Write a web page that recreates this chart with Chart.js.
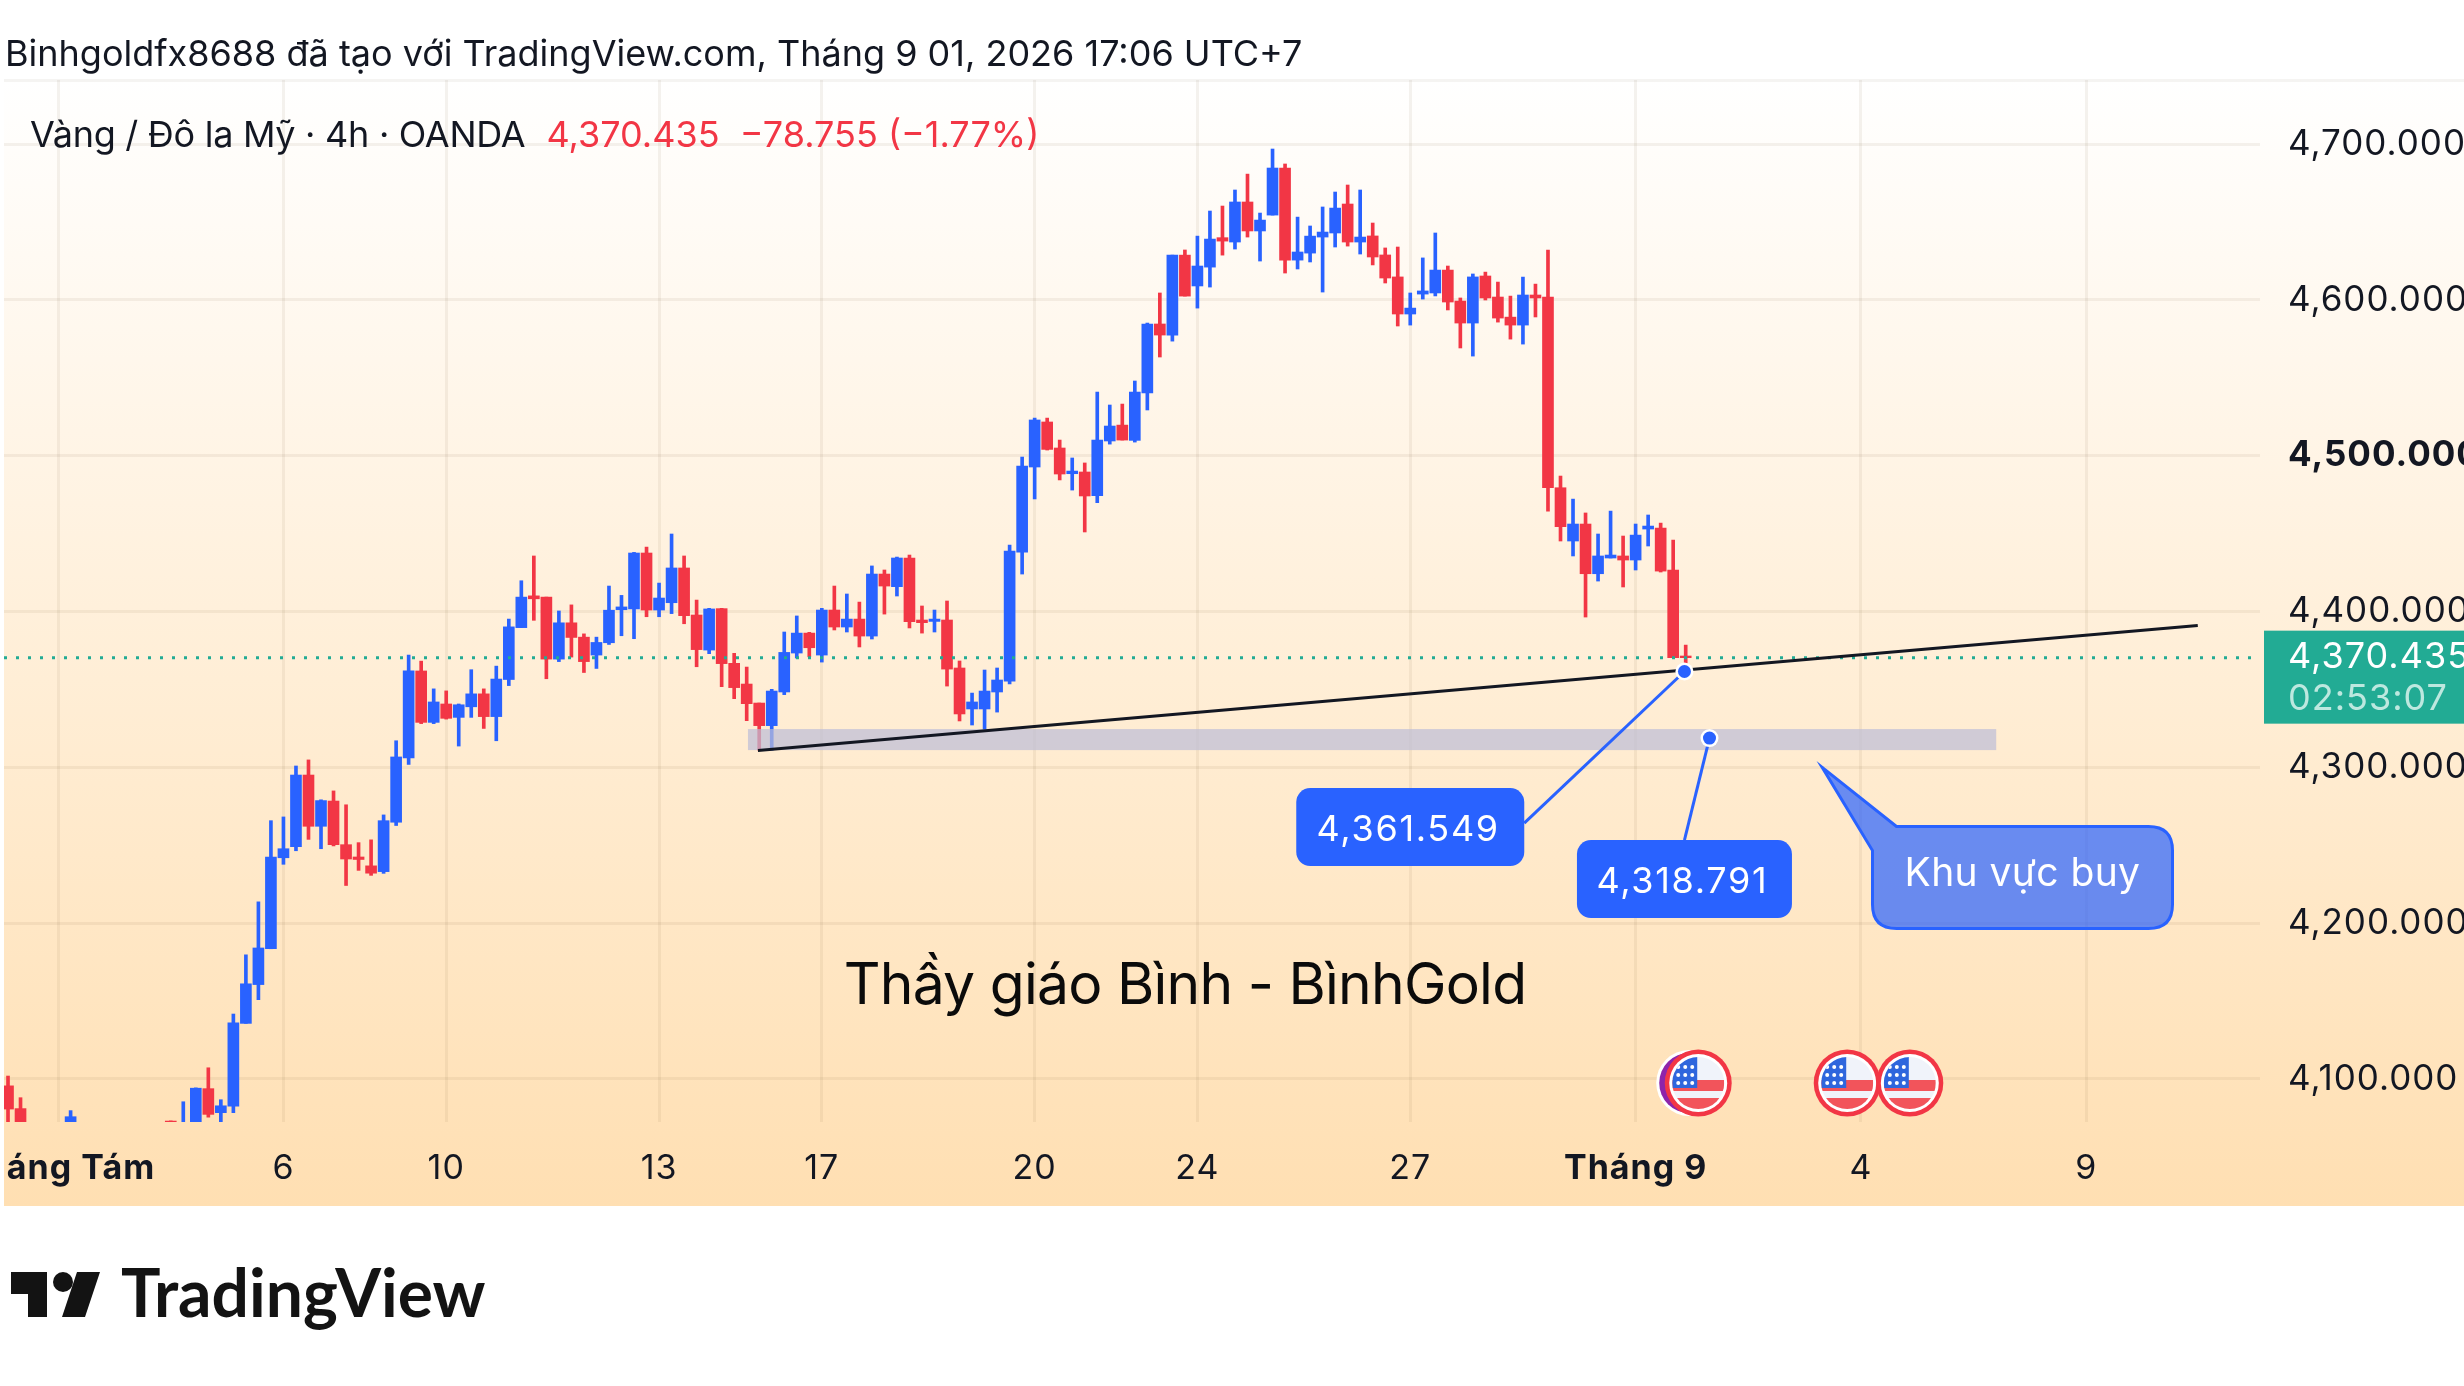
<!DOCTYPE html>
<html>
<head>
<meta charset="utf-8">
<title>XAUUSD 4h</title>
<script src="https://cdn.jsdelivr.net/npm/chart.js@4"></script>
<style>
  html, body { margin: 0; padding: 0; background: #fff; overflow: hidden; }
  canvas { position: absolute; left: 4px; top: 0; }
</style>
</head>
<body>
<canvas id="chart" width="2460" height="1386"></canvas>
<script>
// 4h candles. null = candle sits completely below the visible pane
const opens = [4095.6,4081,null,null,null,4060,null,null,null,null,null,null,null,4073,4060,4065,4093.8,4078.4,4082.6,4135.7,4160.6,4183.6,4242,4249.1,4295.1,4262.2,4278.4,4250.4,4242.5,4236.8,4233.1,4264.8,4306.1,4361.9,4328.9,4340.7,4332.1,4338.9,4347.2,4332.6,4356.4,4389.7,4410.1,4409.3,4369.5,4392.8,4383.6,4372.1,4380,4401.2,4401.7,4437.6,4401,4405.7,4428,4397.8,4375.3,4401.9,4366.8,4353.5,4341.3,4326.8,4348.4,4373.4,4386.2,4372.1,4401,4390.1,4395.2,4384.3,4424.1,4416,4434.4,4394.6,4393.7,4394.6,4363.8,4337.5,4337.5,4348.4,4355.4,4438.2,4492.8,4521.7,4505,4488.5,4489.6,4474.4,4509.5,4519.7,4509.9,4540.3,4584.6,4577.5,4628.8,4609,4621.1,4640,4637.2,4662.9,4644.3,4654.5,4684.7,4625.6,4630.1,4640.4,4643,4661.6,4637.2,4641.1,4628.9,4614.8,4591,4603.8,4604.5,4619.2,4599.3,4585.2,4615.4,4601.9,4589,4583.9,4603.2,4601.9,4479.5,4445.3,4456.2,4424.3,4434.4,4435.7,4433.1,4453,4453.6,4426.7,4371.5];
const highs = [4101.9,4088,null,null,null,4079.7,null,null,null,null,null,null,null,4073.1,4085.4,4094.3,4107.2,4086.7,4141.7,4179.7,4213.7,4265.8,4268.2,4300.9,4304.8,4279.2,4284.9,4276,4251.7,4253.5,4269.5,4317.1,4372.1,4368.2,4350.4,4349.1,4340.7,4362.7,4350.4,4365,4395.2,4419.8,4435.7,4409.3,4400.4,4404.3,4385.7,4383.6,4416.4,4410.4,4438,4441.4,4418.3,4449.8,4435.7,4407.4,4402.1,4402.1,4373.2,4364.4,4341.3,4350.1,4386.9,4397.2,4386.7,4402.1,4416.4,4411.3,4406.1,4429.3,4426.7,4435,4436.3,4403.6,4401,4406.8,4368.3,4347.7,4362.5,4363.8,4442.7,4499.2,4524.2,4524.2,4510.1,4498.6,4495.4,4540.9,4532.6,4533.2,4548,4585.2,4604.5,4628.8,4632.1,4641,4657.1,4660.3,4670.6,4680.8,4655.8,4696.9,4687.3,4653.2,4647.5,4659.7,4669.3,4673.8,4670.6,4649.4,4633.4,4634,4604.5,4627,4643,4621.8,4601.3,4616.7,4617.9,4611.5,4602.5,4614.7,4610.2,4632.1,4487,4472.2,4463.3,4449.8,4464.5,4448.5,4456.2,4462,4456.8,4445.9,4378.5];
const lows = [4060,4055,null,null,null,4050,null,null,null,null,null,null,null,4050,4050,4060,4075.5,4068,4078.4,4135.7,4150.9,4183.6,4237.8,4246.5,4253.8,4247.8,4249.6,4224.2,4233.9,4230.7,4232,4262.7,4301.9,4328.1,4328.1,4331,4313.7,4332.1,4325,4317.1,4352.5,4389.7,4394.4,4356.9,4367.9,4370.8,4360.9,4363.5,4378.9,4384.5,4382.6,4396.7,4396.7,4398.7,4392.2,4364.6,4373,4351.8,4344.1,4330,4311.1,4311.1,4346.7,4370.2,4371,4367.6,4388.2,4386.9,4377.3,4382.4,4398.4,4410,4389.5,4386.2,4386.9,4352.2,4329.8,4327.2,4324,4335.5,4353.5,4424.1,4472.3,4503.7,4484.5,4478,4451.1,4469.9,4507.5,4510.1,4508.8,4529.4,4563.4,4573.6,4602.5,4594.8,4608.3,4628.8,4632.7,4640.4,4625,4654.5,4617.3,4619.9,4624.4,4605.1,4634,4634.6,4629.5,4622.5,4610.9,4583.3,4583.9,4600.6,4602.6,4593.6,4569.2,4564,4600,4585.8,4574.9,4571.7,4589.1,4464.5,4445.3,4435.7,4396.5,4419.6,4434.4,4415.8,4426.7,4442.1,4425.4,4370.4,4364.6];
const closes = [4080.7,4065,null,null,null,4075.8,null,null,null,null,null,null,null,4060,4071,4094.1,4077.3,4082.8,4136,4161.1,4184.1,4242.5,4247.8,4295.1,4262.2,4278.7,4250.4,4241.2,4240.9,4232.1,4265.8,4306.7,4361.9,4328.9,4342,4331.5,4340.2,4347.2,4332.6,4356.7,4390.2,4409.3,4408.2,4369.5,4392.8,4383.4,4367.9,4380.2,4400.9,4403,4437.6,4401,4408.7,4428,4397.4,4375.6,4401.7,4366.6,4351.2,4340.9,4326.8,4349,4373.8,4386.2,4376.8,4401,4390.1,4395.2,4384.3,4424.1,4416.4,4434.4,4393.5,4392.9,4395.2,4363.1,4334.3,4342,4349,4356.1,4438.9,4493.4,4523,4504.1,4488.3,4490.2,4474.2,4510.1,4519.1,4510.1,4540.9,4584.6,4577.5,4628.8,4602.5,4621.8,4639.1,4637.8,4662.9,4644.3,4651.3,4684.7,4625.6,4630.8,4641,4643.6,4659,4637.2,4640.4,4627.6,4614.1,4591,4594.8,4605.8,4619.2,4598.7,4585.2,4614.8,4601.3,4588.4,4583.9,4603.2,4601.3,4479.5,4454.5,4456.2,4424.3,4435.7,4436.3,4433.1,4449.1,4454.9,4426,4370.4,4370.435];

// x axis: candle index of each labelled grid line
const xTickIndex = [4, 22, 35, 52, 65, 82, 95, 112, 130, 148, 166];
const xTickLabels = ['Tháng Tám', '6', '10', '13', '17', '20', '24', '27', 'Tháng 9', '4', '9'];
const yTicks = [4100, 4200, 4300, 4400, 4500, 4600, 4700];

const lastPrice = 4370.435;
const trendIndex = [59.9, 174.9];
const trendPrice = [4310.9, 4391.1];
const zoneIndex = [59.1, 158.8];
const zonePrice = [4324.6, 4311.1];
const pricePins = [4361.549, 4318.791];
const pinIndex = [133.9, 135.9];
const pinBoxIndex = [112, 133.9];
const pinBoxPrice = [4261.7, 4228.3];
const calloutIndex = [160.9, 144.9];   // box centre, tip
const calloutPrice = [4229.3, 4300];
const eventIndex = [135, 146.9, 151.9];

const UP = '#2962FF', DOWN = '#F23645';
const FONT = 'Inter, "Liberation Sans", sans-serif';

const fmt = v => v.toLocaleString('en-US', { minimumFractionDigits: 3, maximumFractionDigits: 3 });

const wicks = [], bodies = [], colors = [];
opens.forEach((o, i) => {
  if (o === null) return;
  wicks.push({ x: i, y: [lows[i], highs[i]] });
  bodies.push({ x: i, y: [o, closes[i]] });
  colors.push(closes[i] >= o ? UP : DOWN);
});

function roundBox(ctx, x, y, w, h, r) {
  ctx.beginPath();
  ctx.roundRect(x, y, w, h, r);
}

function drawFlag(ctx, x, y) {
  ctx.save();
  ctx.beginPath(); ctx.arc(x, y, 33.5, 0, Math.PI * 2); ctx.fillStyle = '#F23645'; ctx.fill();
  ctx.beginPath(); ctx.arc(x, y, 29, 0, Math.PI * 2); ctx.fillStyle = '#fff'; ctx.fill();
  ctx.beginPath(); ctx.arc(x, y, 26, 0, Math.PI * 2); ctx.fillStyle = '#F0F3FA'; ctx.fill();
  ctx.clip();
  ctx.fillStyle = '#F2545B';
  ctx.fillRect(x - 26, y - 3, 52, 11);
  ctx.fillRect(x - 26, y + 15, 52, 12);
  ctx.fillStyle = '#2F66DD';
  ctx.fillRect(x - 26, y - 26, 25, 31);
  ctx.fillStyle = '#fff';
  for (let r = 0; r < 3; r++) for (let c = 0; c < 3; c++) {
    ctx.beginPath();
    ctx.arc(x - 20 + c * 7, y - 16 + r * 8, 2, 0, Math.PI * 2);
    ctx.fill();
  }
  ctx.restore();
}

// page furniture behind the plot: gradient + top border
const backdrop = {
  id: 'backdrop',
  beforeDraw(chart) {
    const ctx = chart.ctx;
    const g = ctx.createLinearGradient(0, 80, 0, 1206);
    g.addColorStop(0, '#FFFFFF');
    g.addColorStop(1, '#FFDFB2');
    ctx.save();
    ctx.fillStyle = g;
    ctx.fillRect(0, 80, chart.width, 1126);
    ctx.fillStyle = 'rgba(120,100,70,0.07)';
    ctx.fillRect(0, 79, chart.width, 3);
    ctx.restore();
    ctx.letterSpacing = '1px';   // axis labels run wider than the font
  }
};

// drawings on top of the candles, all anchored through the scales
const drawings = {
  id: 'drawings',
  afterDatasetsDraw(chart) {
    const ctx = chart.ctx, xs = chart.scales.x, ys = chart.scales.y, area = chart.chartArea;
    const X = v => xs.getPixelForValue(v), Y = v => ys.getPixelForValue(v);
    ctx.save();
    ctx.letterSpacing = '0px';

    // zone
    ctx.fillStyle = 'rgba(190,190,215,0.72)';
    ctx.fillRect(X(zoneIndex[0]), Y(zonePrice[0]), X(zoneIndex[1]) - X(zoneIndex[0]), Y(zonePrice[1]) - Y(zonePrice[0]));

    // last price line
    ctx.strokeStyle = '#22AB94';
    ctx.lineWidth = 3;
    ctx.setLineDash([3, 9]);
    ctx.beginPath();
    ctx.moveTo(area.left, Y(lastPrice));
    ctx.lineTo(area.right, Y(lastPrice));
    ctx.stroke();
    ctx.setLineDash([]);

    // trend line
    ctx.strokeStyle = '#131722';
    ctx.lineWidth = 3;
    ctx.beginPath();
    ctx.moveTo(X(trendIndex[0]), Y(trendPrice[0]));
    ctx.lineTo(X(trendIndex[1]), Y(trendPrice[1]));
    ctx.stroke();

    // watermark text
    ctx.fillStyle = '#0b0b0b';
    ctx.textBaseline = 'middle';
    ctx.textAlign = 'center';
    ctx.font = '57px ' + FONT;
    ctx.letterSpacing = '-0.75px';
    ctx.fillText('Thầy giáo Bình - BìnhGold', 1181, 987);
    ctx.letterSpacing = '0px';

    // price pins
    pricePins.forEach((p, k) => {
      const bx = X(pinBoxIndex[k]), by = Y(pinBoxPrice[k]);
      const w = k === 0 ? 228 : 215, h = 78;
      ctx.strokeStyle = UP;
      ctx.lineWidth = 3;
      ctx.beginPath();
      ctx.moveTo(k === 0 ? bx + w / 2 : bx, k === 0 ? by - 4 : by - h / 2);
      ctx.lineTo(X(pinIndex[k]), Y(p));
      ctx.stroke();
      ctx.fillStyle = UP;
      roundBox(ctx, bx - w / 2, by - h / 2, w, h, 14);
      ctx.fill();
      ctx.fillStyle = '#fff';
      ctx.font = '36px ' + FONT;
      ctx.letterSpacing = '1.7px';
      ctx.fillText(fmt(p), bx - 2, by + 3);
      ctx.letterSpacing = '0px';
      ctx.beginPath();
      ctx.arc(X(pinIndex[k]), Y(p), 9, 0, Math.PI * 2);
      ctx.fillStyle = '#fff';
      ctx.fill();
      ctx.beginPath();
      ctx.arc(X(pinIndex[k]), Y(p), 6.5, 0, Math.PI * 2);
      ctx.fillStyle = UP;
      ctx.fill();
    });

    // callout with tail
    const cx = X(calloutIndex[0]), cy = Y(calloutPrice[0]), tx = X(calloutIndex[1]), ty = Y(calloutPrice[1]);
    const l = cx - 150, r = cx + 150, t = cy - 51, b = cy + 51, rad = 24;
    ctx.beginPath();
    ctx.moveTo(tx, ty);
    ctx.lineTo(l + rad, t);
    ctx.lineTo(r - rad, t);
    ctx.quadraticCurveTo(r, t, r, t + rad);
    ctx.lineTo(r, b - rad);
    ctx.quadraticCurveTo(r, b, r - rad, b);
    ctx.lineTo(l + rad, b);
    ctx.quadraticCurveTo(l, b, l, b - rad);
    ctx.lineTo(l, t + rad);
    ctx.closePath();
    ctx.fillStyle = 'rgba(41,98,255,0.7)';
    ctx.fill();
    ctx.strokeStyle = UP;
    ctx.lineWidth = 3;
    ctx.stroke();
    ctx.fillStyle = '#fff';
    ctx.font = '39px ' + FONT;
    ctx.letterSpacing = '0.4px';
    ctx.fillText('Khu vực buy', cx, cy - 3);
    ctx.letterSpacing = '0px';

    // economic event icons
    const ey = area.bottom - 39;
    ctx.beginPath();
    ctx.arc(X(eventIndex[0]) - 9, ey, 33, 0, Math.PI * 2);
    ctx.fillStyle = '#fff';
    ctx.fill();
    ctx.beginPath();
    ctx.arc(X(eventIndex[0]) - 9, ey, 30, 0, Math.PI * 2);
    ctx.fillStyle = '#8E24AA';
    ctx.fill();
    eventIndex.forEach(i => drawFlag(ctx, X(i), ey));

    // header text
    ctx.textAlign = 'left';
    ctx.fillStyle = '#131722';
    ctx.font = '36px ' + FONT;
    ctx.fillText('Binhgoldfx8688 đã tạo với TradingView.com, Tháng 9 01, 2026 17:06 UTC+7', 1, 55.5);
    ctx.letterSpacing = '-0.28px';
    ctx.fillText('Vàng / Đô la Mỹ · 4h · OANDA', 26, 136.5);
    ctx.letterSpacing = '0px';
    ctx.fillStyle = DOWN;
    ctx.fillText(fmt(lastPrice) + '  −78.755 (−1.77%)', 542.5, 136.5);

    // price tag on the axis
    const tagX = 2260, tagY = Y(lastPrice);
    ctx.fillStyle = '#22AB94';
    ctx.fillRect(tagX, tagY - 27, 210, 93);
    ctx.letterSpacing = '1px';
    ctx.fillStyle = '#fff';
    ctx.fillText(fmt(lastPrice), 2284, tagY);
    ctx.fillStyle = '#BDE8DF';
    ctx.fillText('02:53:07', 2284, tagY + 42);
    ctx.letterSpacing = '0px';

    // logo
    ctx.fillStyle = '#131313';
    ctx.fillRect(7, 1272, 36, 22);
    ctx.fillRect(24, 1272, 19, 45);
    ctx.beginPath();
    ctx.arc(59, 1282, 10, 0, Math.PI * 2);
    ctx.fill();
    ctx.beginPath();
    ctx.moveTo(73, 1272);
    ctx.lineTo(96, 1272);
    ctx.lineTo(81, 1317);
    ctx.lineTo(58, 1317);
    ctx.closePath();
    ctx.fill();
    ctx.font = 'bold 66px Lato, ' + FONT;
    ctx.textBaseline = 'alphabetic';
    ctx.fillText('TradingView', 117, 1317);

    ctx.restore();
  }
};

new Chart(document.getElementById('chart'), {
  type: 'bar',
  data: {
    datasets: [
      { data: wicks, backgroundColor: colors, barThickness: 3, order: 2 },
      { data: bodies, backgroundColor: colors, barThickness: 11, order: 1 }
    ]
  },
  options: {
    responsive: false,
    animation: false,
    events: [],
    layout: { padding: { top: 80, left: 0, right: 0, bottom: 0 } },
    datasets: { bar: { grouped: false } },
    plugins: { legend: { display: false }, tooltip: { enabled: false } },
    scales: {
      x: {
        type: 'linear',
        offset: false,
        min: -0.32,
        max: 179.87,
        grid: { color: 'rgba(120,90,50,0.08)', lineWidth: 3, drawTicks: false, offset: false },
        border: { display: false },
        afterBuildTicks: s => { s.ticks = xTickIndex.map(v => ({ value: v })); },
        afterFit: s => { s.height = 264; s.paddingLeft = 0; s.paddingRight = 0; },
        ticks: {
          autoSkip: false,
          maxRotation: 0,
          padding: 26,
          color: '#131722',
          font: c => ({ family: FONT, size: 34, weight: (c.index === 0 || c.index === 8) ? 'bold' : 'normal' }),
          callback: (v, i) => xTickLabels[i]
        }
      },
      y: {
        position: 'right',
        min: 4072.4,
        max: 4741.2,
        grid: { color: 'rgba(120,90,50,0.08)', lineWidth: 3, drawTicks: false },
        border: { display: false },
        afterBuildTicks: s => { s.ticks = yTicks.map(v => ({ value: v })); },
        afterFit: s => { s.width = 204; },
        ticks: {
          autoSkip: false,
          padding: 28,
          color: '#131722',
          font: c => ({ family: FONT, size: 35, weight: c.tick && c.tick.value === 4500 ? 'bold' : 'normal' }),
          callback: v => fmt(v)
        }
      }
    }
  },
  plugins: [backdrop, drawings]
});
</script>
</body>
</html>
